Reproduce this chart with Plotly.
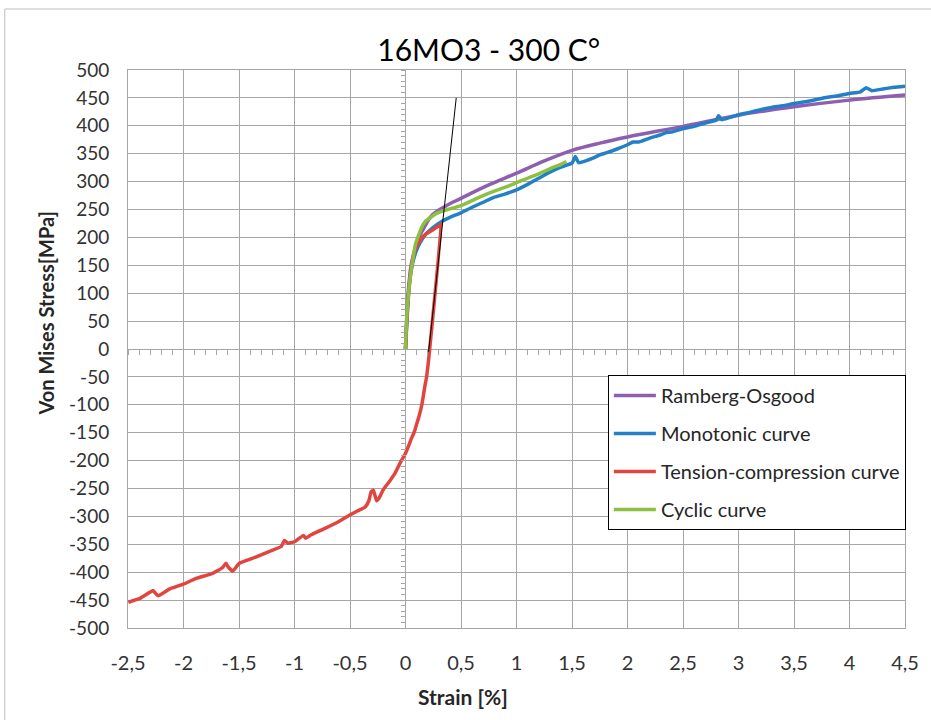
import plotly.graph_objects as go

# Ramberg-Osgood fit
ro_strain = [0, 0.01, 0.02, 0.035, 0.05, 0.08, 0.12, 0.18, 0.24, 0.36, 0.5, 0.75,
             1.0, 1.25, 1.5, 1.75, 2.0, 2.5, 3.0, 3.5, 4.0, 4.5]
ro_stress = [0, 50, 90, 125, 150, 175, 199, 222, 240, 256, 270, 294,
             315, 337, 356, 369, 380, 399, 419, 434, 446, 455]

# Monotonic tensile test
mono_strain = [0, 0.01, 0.025, 0.04, 0.06, 0.09, 0.13, 0.18, 0.25, 0.33, 0.4, 0.5,
               0.6, 0.7, 0.8, 0.9, 1.0, 1.1, 1.2, 1.3, 1.4, 1.5, 1.53, 1.56, 1.7,
               1.75, 1.8, 1.9, 2.0, 2.05, 2.1, 2.2, 2.3, 2.35, 2.4, 2.5, 2.6, 2.7,
               2.8, 2.82, 2.85, 3.0, 3.1, 3.2, 3.3, 3.4, 3.5, 3.6, 3.7, 3.8, 3.9,
               4.0, 4.1, 4.15, 4.2, 4.3, 4.4, 4.5]
mono_stress = [0, 40, 90, 125, 150, 172, 190, 205, 218, 229, 236, 244,
               254, 263, 272, 278, 285, 295, 306, 317, 326, 333, 345, 334, 343,
               348, 351, 358, 366, 371, 371, 378, 384, 388, 389, 395, 399, 405,
               410, 418, 411, 420, 424, 429, 433, 436, 440, 443, 447, 451, 454,
               458, 461, 468, 463, 466, 469, 471]

# Tension-compression test: loading, unloading, then compression
tc_strain = [0, 0.01, 0.025, 0.045, 0.07, 0.1, 0.14, 0.19, 0.24, 0.28, 0.31, 0.32,
             0.218, 0.205, 0.19, 0.175, 0.16, 0.145, 0.12, 0.1, 0.08, 0.05, 0.025,
             0.0, -0.05, -0.095, -0.14, -0.2, -0.24, -0.26, -0.29, -0.31, -0.33,
             -0.363, -0.43, -0.497, -0.6, -0.721, -0.85, -0.9, -0.92, -0.996, -1.06,
             -1.09, -1.12, -1.229, -1.35, -1.497, -1.557, -1.6, -1.617, -1.65,
             -1.736, -1.885, -1.996, -2.124, -2.229, -2.26, -2.273, -2.393, -2.497]
tc_stress = [0, 45, 95, 135, 165, 184, 197, 207, 213, 218, 222, 224,
             0, -25, -50, -66, -85, -102, -122, -135, -148, -162, -175,
             -187, -205, -223, -236, -252, -268, -272, -253, -256, -272,
             -283, -290, -297, -309, -321, -333, -339, -334, -345, -348,
             -343, -354, -363, -373, -384, -398, -390, -384, -392,
             -402, -411, -421, -430, -442, -436, -433, -447, -454]

# Cyclic stress-strain curve
cyc_strain = [0, 0.005, 0.015, 0.03, 0.05, 0.07, 0.09, 0.12, 0.15, 0.18, 0.2, 0.24,
              0.28, 0.33, 0.4, 0.5, 0.6, 0.7, 0.8, 0.9, 1.0, 1.1, 1.2, 1.3, 1.4, 1.45]
cyc_stress = [0, 30, 70, 105, 140, 165, 188, 205, 220, 229, 232, 238,
              243, 247, 251, 257, 266, 275, 283, 290, 298, 306, 314, 323, 331, 336]

# Elastic modulus line
elastic_strain = [0.208, 0.457]
elastic_stress = [-5, 450]

x_ticks = [-2.5, -2, -1.5, -1, -0.5, 0, 0.5, 1, 1.5, 2, 2.5, 3, 3.5, 4, 4.5]
x_ticktext = ["-2,5", "-2", "-1,5", "-1", "-0,5", "0", "0,5", "1", "1,5", "2",
              "2,5", "3", "3,5", "4", "4,5"]
y_ticks = list(range(-500, 501, 50))
y_ticktext = [str(v) for v in y_ticks]

GRID = "#A6A6A6"
FONT = "Lato"
LW = 3.5
TICK_COLOR = "#333333"

fig = go.Figure()
series = [
    ("Ramberg-Osgood", ro_strain, ro_stress, "#8E5EB0", 1.0),
    ("Monotonic curve", mono_strain, mono_stress, "#2380C6", 0.4),
    ("Tension-compression curve", tc_strain, tc_stress, "#E0463F", 0.4),
    ("Cyclic curve", cyc_strain, cyc_stress, "#8DC040", 0.8),
]
for name, xs, ys, col, smooth in series:
    fig.add_trace(go.Scatter(x=xs, y=ys, mode="lines", name=name, legendgroup=name,
                             line=dict(color=col, width=LW, shape="spline",
                                       smoothing=smooth)))

# elastic slope drawn on the overlay axes so it sits on top of the curves
fig.add_trace(go.Scatter(x=elastic_strain, y=elastic_stress, mode="lines",
                         line=dict(color="black", width=1), showlegend=False,
                         xaxis="x2", yaxis="y2", hoverinfo="skip"))

xr = [-2.5, 4.5]
yr = [-500, 500]

fig.update_layout(
    width=931, height=720, autosize=False,
    margin=dict(l=128, r=21, t=70, b=92),
    paper_bgcolor="white", plot_bgcolor="white",
    font=dict(family=FONT, size=18, color=TICK_COLOR),
    title=dict(text="16MO3 - 300 C°", x=0.525, xref="container", xanchor="center",
               y=0.93, yref="container", yanchor="middle",
               font=dict(family=FONT, size=30, color="black")),
    xaxis=dict(range=xr, tickvals=x_ticks, ticktext=x_ticktext, showgrid=True,
               gridcolor=GRID, gridwidth=1, zeroline=True, zerolinecolor=GRID,
               zerolinewidth=1, showline=True, linecolor=GRID, linewidth=1, mirror=True,
               ticks="", ticklabelstandoff=17, tickfont=dict(size=20, color=TICK_COLOR)),
    yaxis=dict(range=yr, tickvals=y_ticks, ticktext=y_ticktext, showgrid=True,
               gridcolor=GRID, gridwidth=1, zeroline=True, zerolinecolor=GRID,
               zerolinewidth=1, showline=True, linecolor=GRID, linewidth=1, mirror=True,
               ticks="", ticklabelstandoff=14, tickfont=dict(size=19, color=TICK_COLOR)),
    # minor ticks along the zero lines
    xaxis2=dict(overlaying="x", anchor="free", position=0.5, range=xr, side="bottom",
                showgrid=False, zeroline=False, showline=False, showticklabels=False,
                tickmode="linear", tick0=-2.5, dtick=0.1, ticks="outside", ticklen=5,
                tickwidth=1, tickcolor=GRID),
    yaxis2=dict(overlaying="y", anchor="free", position=2.5 / 7, range=yr, side="left",
                showgrid=False, zeroline=False, showline=False, showticklabels=False,
                tickmode="linear", tick0=-500, dtick=10, ticks="outside", ticklen=5,
                tickwidth=1, tickcolor=GRID),
    legend=dict(x=0.6176, y=0.4534, xanchor="left", yanchor="top",
                bordercolor="black", borderwidth=1, bgcolor="white",
                font=dict(family=FONT, size=20, color="#262626"),
                tracegroupgap=9, traceorder="grouped", itemwidth=42),
    showlegend=True,
)

fig.add_annotation(text="<b>Strain [%]</b>", xref="paper", yref="paper",
                   x=0.431, y=-0.122, xanchor="center", yanchor="middle",
                   showarrow=False, font=dict(family=FONT, size=21, color="#262626"))
fig.add_annotation(text="<b>Von Mises Stress[MPa]</b>", xref="paper", yref="paper",
                   x=-0.106, y=0.563, xanchor="center", yanchor="middle", textangle=-90,
                   showarrow=False, font=dict(family=FONT, size=20, color="#262626"))

# chart area border
fig.add_shape(type="rect", xref="paper", yref="paper", x0=-0.1586, x1=1.05,
              y0=-0.2, y1=1.1093, line=dict(color="#BFBFBF", width=1), layer="below")

fig.write_html("out.html")
